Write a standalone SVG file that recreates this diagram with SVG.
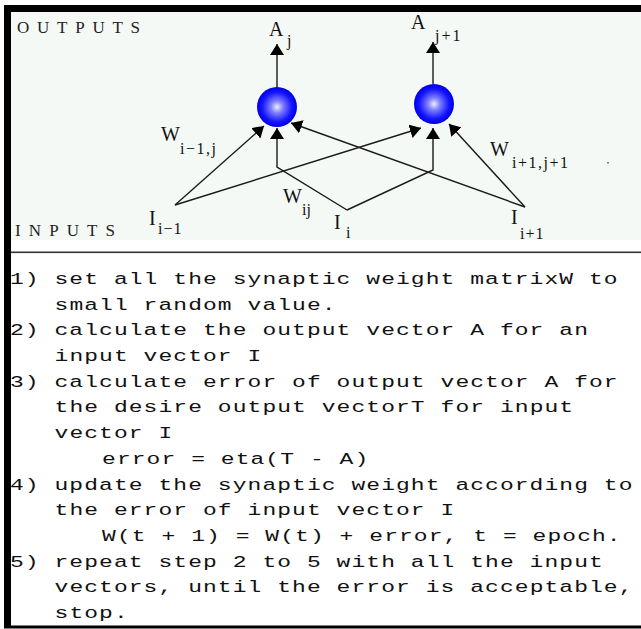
<svg xmlns="http://www.w3.org/2000/svg" width="641" height="629" viewBox="0 0 641 629">
  <style>
    .lbl { font-family: "Liberation Serif", "Times New Roman", serif; fill: #111; }
    .big { font-size: 20px; }
    .sub { font-size: 16px; }
    .head { font-family: "Liberation Serif", "Times New Roman", serif; font-size: 17px; fill: #222; }
    .wire { fill: none; stroke: #1a1a1a; stroke-width: 1.4; marker-end: url(#tip); }
    .step { font-family: "Liberation Mono", "Courier New", monospace; font-size: 17px; letter-spacing: 0.8px; fill: #111; white-space: pre; }
  </style>
  <defs>
    <radialGradient id="ball" cx="50%" cy="50%" r="50%">
      <stop offset="0" stop-color="#eeeeff"/>
      <stop offset="0.3" stop-color="#8080ff"/>
      <stop offset="0.75" stop-color="#1414ff"/>
      <stop offset="1" stop-color="#0000e6"/>
    </radialGradient>
    <marker id="tip" viewBox="0 0 11 14" markerWidth="11" markerHeight="14" refX="11" refY="7" orient="auto" markerUnits="userSpaceOnUse">
      <path d="M0,0 L11,7 L0,14 z" fill="#000"/>
    </marker>
  </defs>

  <!-- page and frame -->
  <rect x="0" y="0" width="641" height="629" fill="#fff"/>
  <rect x="11" y="12" width="630" height="228" fill="#f5f9f5"/>
  <rect x="4" y="5" width="637" height="7" fill="#000"/>
  <rect x="4" y="5" width="7" height="623" fill="#000"/>
  <rect x="11" y="251.5" width="630" height="1.6" fill="#333"/>
  <rect x="4" y="625.5" width="637" height="3" fill="#000"/>

  <!-- layer captions -->
  <text class="head" x="17" y="33" textLength="123" lengthAdjust="spacing">OUTPUTS</text>
  <text class="head" x="15" y="236" textLength="100" lengthAdjust="spacing">INPUTS</text>

  <!-- connectors -->
  <g id="connectors">
    <line class="wire" x1="277" y1="88" x2="277" y2="44"/>
    <line class="wire" x1="433" y1="84" x2="433" y2="42"/>
    <line class="wire" x1="175" y1="205" x2="264" y2="126"/>
    <polyline class="wire" points="347,210 277,167 277,128"/>
    <line class="wire" x1="525" y1="207" x2="291" y2="123"/>
    <line class="wire" x1="175" y1="205" x2="421" y2="128"/>
    <polyline class="wire" points="347,210 433,170 433,128"/>
    <line class="wire" x1="525" y1="207" x2="449" y2="124"/>
  </g>

  <!-- output neurons -->
  <g id="node-aj">
    <circle cx="277" cy="107" r="20" fill="url(#ball)"/>
    <text class="lbl big" x="269" y="36">A</text>
    <text class="lbl sub" x="287" y="46">j</text>
  </g>
  <g id="node-aj1">
    <circle cx="434" cy="104" r="20" fill="url(#ball)"/>
    <text class="lbl big" x="411" y="29">A</text>
    <text class="lbl sub" x="435" y="41" letter-spacing="2">j+1</text>
  </g>

  <!-- inputs -->
  <g id="input-im1">
    <text class="lbl big" x="149" y="225">I</text>
    <text class="lbl sub" x="158" y="234" letter-spacing="1">i−1</text>
  </g>
  <g id="input-i">
    <text class="lbl big" x="334" y="229">I</text>
    <text class="lbl sub" x="346" y="238">i</text>
  </g>
  <g id="input-ip1">
    <text class="lbl big" x="511" y="224">I</text>
    <text class="lbl sub" x="520" y="239" letter-spacing="1">i+1</text>
  </g>

  <!-- weight labels -->
  <g id="weights">
    <text class="lbl big" x="161" y="141">W</text>
    <text class="lbl sub" x="180" y="154" letter-spacing="1.5">i−1,j</text>
    <text class="lbl big" x="283" y="203">W</text>
    <text class="lbl sub" x="302" y="215">ij</text>
    <text class="lbl big" x="490" y="156">W</text>
    <text class="lbl sub" x="512" y="168" letter-spacing="1.5">i+1,j+1</text>
    <rect x="607" y="162" width="2" height="1.5" fill="#777"/>
  </g>

  <!-- training procedure (monospace, widened horizontally) -->
  <g id="steps" transform="scale(1.35,1)">
    <text class="step" x="7.4" y="284">1) set all the synaptic weight matrixW to</text>
    <text class="step" x="40.4" y="309.7">small random value.</text>
    <text class="step" x="7.4" y="335.4">2) calculate the output vector A for an</text>
    <text class="step" x="40.4" y="361.1">input vector I</text>
    <text class="step" x="7.4" y="386.8">3) calculate error of output vector A for</text>
    <text class="step" x="40.4" y="412.5">the desire output vectorT for input</text>
    <text class="step" x="40.4" y="438.2">vector I</text>
    <text class="step" x="75.6" y="463.9">error = eta(T - A)</text>
    <text class="step" x="7.4" y="489.6">4) update the synaptic weight according to</text>
    <text class="step" x="40.4" y="515.3">the error of input vector I</text>
    <text class="step" x="75.6" y="541">W(t + 1) = W(t) + error, t = epoch.</text>
    <text class="step" x="7.4" y="566.7">5) repeat step 2 to 5 with all the input</text>
    <text class="step" x="40.4" y="592.4">vectors, until the error is acceptable,</text>
    <text class="step" x="40.4" y="618.1">stop.</text>
  </g>
</svg>
